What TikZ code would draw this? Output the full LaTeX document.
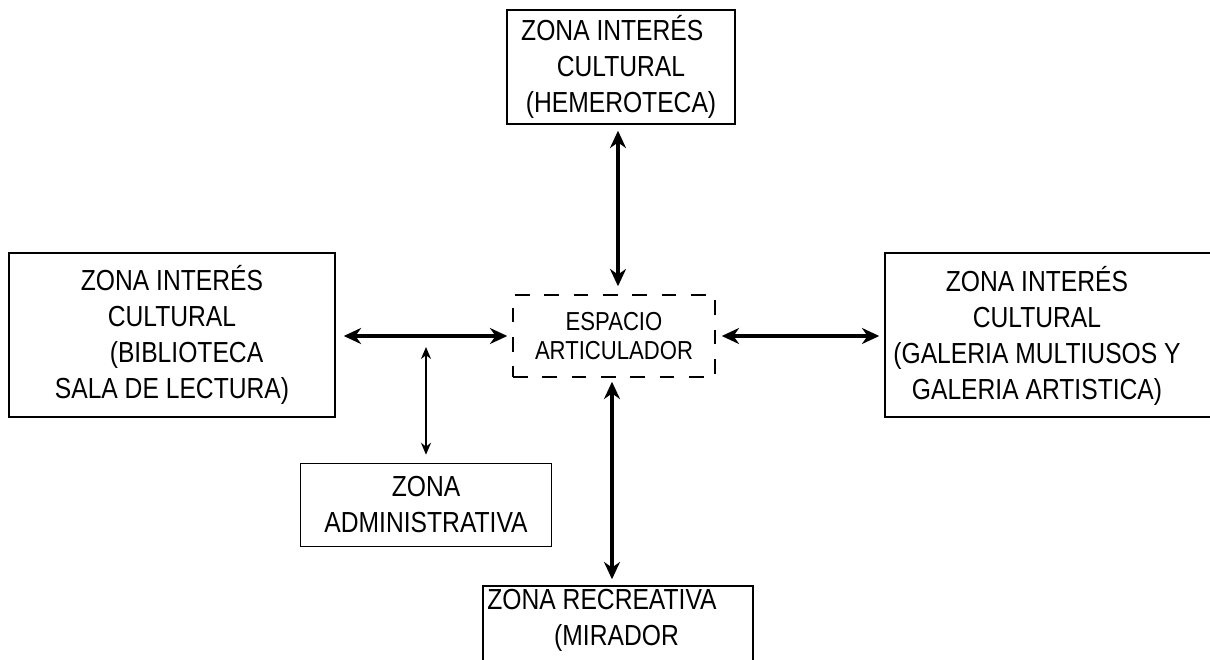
\documentclass[tikz,border=0pt]{standalone}
\usepackage{fontspec}
\setmainfont{Liberation Sans}[FakeStretch=0.85]
\usetikzlibrary{arrows.meta,calc}
\tikzset{
  zone/.style={draw, line width=1.1pt, align=center, inner sep=0pt,
    font=\fontsize{21.75pt}{27pt}\selectfont},
  ztext/.style={align=center, inner sep=0pt, font=\fontsize{21.75pt}{27pt}\selectfont},
  hub/.style={draw, line width=1.1pt, dash pattern=on 11pt off 11pt, align=center,
    inner sep=0pt, font=\fontsize{19.5pt}{21.75pt}\selectfont},
  big/.style={line width=2.8pt, {Stealth[length=13pt,width=12pt]}-{Stealth[length=13pt,width=12pt]}},
  small/.style={line width=1.5pt, {Stealth[length=9pt,width=7.5pt]}-{Stealth[length=9pt,width=7.5pt]}}
}
\begin{document}
\begin{tikzpicture}[x=0.75pt,y=-0.75pt]
\useasboundingbox (0,0) rectangle (1210,660);
\clip (0,0) rectangle (1210,660);
\node[zone, minimum width=228*0.75pt, minimum height=114*0.75pt] (top) at (621,67)
  {\hspace*{-0.6em}ZONA INTERÉS\\CULTURAL\\(HEMEROTECA)};
\node[zone, minimum width=326*0.75pt, minimum height=164*0.75pt] (left) at (172,335)
  {ZONA INTERÉS\\CULTURAL\\\hspace{1.0em}(BIBLIOTECA\\SALA DE LECTURA)};
\node[draw, line width=1.1pt, minimum width=330*0.75pt, minimum height=164*0.75pt] (right) at (1050,335) {};
\node[ztext] (righttext) at (1037,336)
  {ZONA INTERÉS\\CULTURAL\\(GALERIA MULTIUSOS Y\\GALERIA ARTISTICA)};
\node[hub, minimum width=202*0.75pt, minimum height=82*0.75pt] (esp) at (614,336)
  {ESPACIO\\ARTICULADOR};
\node[zone, minimum width=251*0.75pt, minimum height=83*0.75pt] (adm) at (426,505)
  {ZONA\\ADMINISTRATIVA};
\node[draw, line width=1.1pt, minimum width=270*0.75pt, minimum height=150*0.75pt] (rec) at (618,661) {};
\node[ztext] (rectext) at (602,620) {ZONA RECREATIVA\\\hspace{1em}(MIRADOR};
% connectors
\draw[big] ($(top.south)+(-3,6)$) -- ($(esp.north)+(4,-8)$);
\draw[big] ($(left.east)+(8,1)$) -- ($(esp.west)+(-5,0)$);
\draw[big] ($(esp.east)+(6,0)$) -- ($(right.west)+(-5,1)$);
\draw[big] ($(esp.south)+(-2,4)$) -- ($(rec.north)+(-6,-6)$);
\coordinate (junc) at (426,347);
\draw[small] (junc) -- ($(adm.north)+(0,-8)$);
\end{tikzpicture}
\end{document}
